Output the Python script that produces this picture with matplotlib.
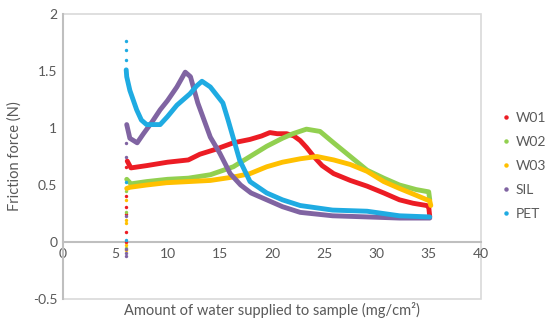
import matplotlib
matplotlib.use("Agg")
import matplotlib.pyplot as plt
from matplotlib.lines import Line2D
from matplotlib.patches import Rectangle

# values
# "ramp" = sparse dots at the start of each run (x ~ 6), "x/y" = main curve
w01_ramp_x = [6.0, 6.0, 6.0, 6.0, 6.02, 6.05]
w01_ramp_y = [0.0, 0.09, 0.25, 0.31, 0.40, 0.66]
w01_x = [6.15, 6.5, 8, 10, 12, 13.1, 14.5, 16.3, 17.9, 19.0, 19.8, 20.5, 21.4, 22.1, 22.7,
         23.3, 24.0, 24.8, 25.9, 27.5, 29.1, 30.7, 32.2, 33.5, 34.8, 35.0, 35.1]
w01_y = [0.71, 0.65, 0.67, 0.70, 0.72, 0.77, 0.81, 0.87, 0.90, 0.93, 0.96, 0.95, 0.95, 0.93, 0.89,
         0.83, 0.75, 0.67, 0.60, 0.54, 0.49, 0.43, 0.37, 0.34, 0.32, 0.31, 0.22]

w02_ramp_x = [6.0, 6.0, 6.02]
w02_ramp_y = [-0.05, 0.26, 0.45]
w02_x = [6.1, 6.5, 8, 10, 12, 14.1, 16.3, 17.9, 19.5, 21, 22.0, 23.3, 24.6, 25.9, 27.5,
         29.1, 30.7, 32.2, 33.8, 35.0, 35.1]
w02_y = [0.55, 0.51, 0.53, 0.55, 0.56, 0.59, 0.66, 0.75, 0.84, 0.91, 0.95, 0.99, 0.97, 0.87, 0.75,
         0.63, 0.56, 0.50, 0.46, 0.44, 0.37]

w03_ramp_x = [6.0, 6.0, 6.0, 6.0, 6.02]
w03_ramp_y = [-0.07, -0.03, 0.17, 0.19, 0.37]
w03_x = [6.1, 6.4, 8, 9.9, 12, 14.1, 16.3, 17.9, 19.5, 21, 22.7, 24.3, 25.9, 27.5,
         29.1, 30.7, 32.2, 33.8, 35.1, 35.2]
w03_y = [0.47, 0.48, 0.50, 0.52, 0.53, 0.54, 0.57, 0.60, 0.66, 0.70, 0.73, 0.75, 0.72, 0.68,
         0.62, 0.53, 0.47, 0.41, 0.36, 0.32]

sil_ramp_x = [6.0, 6.0, 6.0, 6.0, 6.02, 6.03]
sil_ramp_y = [-0.12, -0.10, -0.06, 0.23, 0.75, 0.87]
sil_x = [6.1, 6.4, 7.1, 7.7, 8.5, 9.3, 10.0, 10.9, 11.7, 12.2, 12.9, 14.1, 15.0, 16.0, 17.0,
         18.0, 19.5, 21, 22.7, 25.8, 29.1, 32.2, 35.1]
sil_y = [1.03, 0.91, 0.87, 0.95, 1.05, 1.16, 1.24, 1.36, 1.49, 1.45, 1.22, 0.92, 0.78, 0.60, 0.50,
         0.43, 0.37, 0.31, 0.26, 0.23, 0.22, 0.21, 0.21]

pet_ramp_x = [6.0, 6.0, 6.0, 6.02, 6.03]
pet_ramp_y = [0.02, 0.53, 1.76, 1.68, 1.60]
pet_x = [6.05, 6.1, 6.4, 7.05, 7.5, 8.0, 9.3, 10.0, 10.9, 12.15, 12.8, 13.3, 14.1, 15.3, 15.8,
         16.9, 17.9, 19.5, 21, 22.7, 25.8, 29.1, 32.2, 35.1]
pet_y = [1.51, 1.45, 1.33, 1.16, 1.07, 1.03, 1.03, 1.10, 1.20, 1.30, 1.37, 1.41, 1.36, 1.22, 1.07,
         0.72, 0.53, 0.43, 0.37, 0.32, 0.28, 0.27, 0.23, 0.22]

names = ["W01", "W02", "W03", "SIL", "PET"]
colors = ["#ec1c24", "#92d050", "#ffc000", "#8064a2", "#1fabe2"]
series = [
    (w01_ramp_x, w01_ramp_y, w01_x, w01_y),
    (w02_ramp_x, w02_ramp_y, w02_x, w02_y),
    (w03_ramp_x, w03_ramp_y, w03_x, w03_y),
    (sil_ramp_x, sil_ramp_y, sil_x, sil_y),
    (pet_ramp_x, pet_ramp_y, pet_x, pet_y),
]

text_col = "#595959"
plt.rcParams["font.family"] = ["Lato", "DejaVu Sans"]

fig = plt.figure(figsize=(5.51, 3.22), dpi=100)
ax = fig.add_axes([0.1143, 0.0714, 0.7586, 0.8851])

for (rx, ry, cx, cy), col in zip(series, colors):
    ax.plot(cx, cy, color=col, lw=3.5, solid_joinstyle="round", solid_capstyle="round", zorder=3)
    ax.scatter(rx, ry, s=6, color=col, lw=0, zorder=3)

ax.set_xlim(0, 40)
ax.set_ylim(-0.5, 2)
ax.set_xticks(range(0, 41, 5))
ax.set_yticks([-0.5, 0, 0.5, 1, 1.5, 2])
ax.set_yticklabels(["-0.5", "0", "0.5", "1", "1.5", "2"])

# frame around plot area, x axis drawn at y = 0
for s in ["top", "right"]:
    ax.spines[s].set_visible(False)
ax.spines["bottom"].set_position(("data", 0))
ax.spines["bottom"].set_color("#bfbfbf")
ax.spines["bottom"].set_linewidth(1.5)
ax.spines["left"].set_color("#bfbfbf")
ax.spines["left"].set_linewidth(1.5)
ax.add_patch(Rectangle((0, 0), 1, 1, transform=ax.transAxes, fill=False,
                       ec="#d9d9d9", lw=1.2, zorder=0, clip_on=False))
ax.tick_params(length=0, labelsize=10, colors=text_col, pad=4)

ax.set_ylabel("Friction force (N)", fontsize=10.5, color=text_col, labelpad=8)
ax.set_xlabel("Amount of water supplied to sample (mg/cm²)", fontsize=10.5, color=text_col,
              va="center")
ax.xaxis.set_label_coords(0.5, -0.04)

handles = [Line2D([], [], ls="none", marker="o", ms=2.2, color=c) for c in colors]
leg = fig.legend(handles, names, loc="center left", bbox_to_anchor=(0.885, 0.485), frameon=False,
                 fontsize=10, labelspacing=0.87, handletextpad=0.3, handlelength=0.8)
for t in leg.get_texts():
    t.set_color(text_col)

fig.savefig("out.png", dpi=100)
